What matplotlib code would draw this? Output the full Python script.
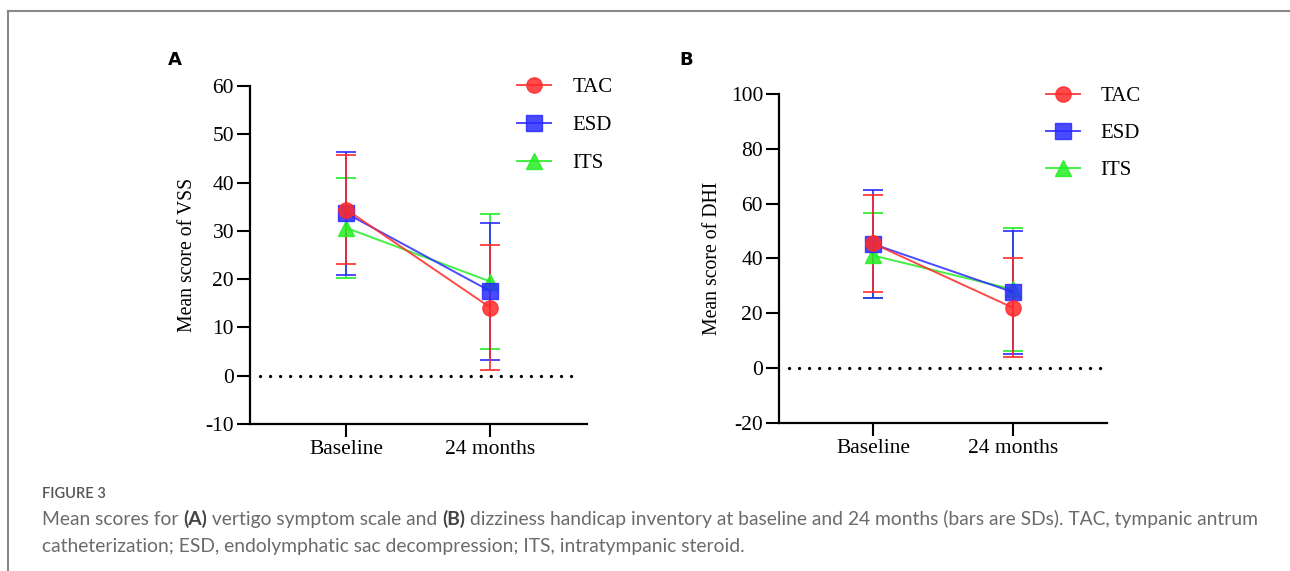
import numpy as np
import matplotlib
matplotlib.use("Agg")
from matplotlib import pyplot as plt
from matplotlib.lines import Line2D
from matplotlib.text import Annotation

# ---- data ----
timepoints = ['Baseline', '24 months']
groups = ['TAC', 'ESD', 'ITS']

vss_mean = {'TAC': [34.4, 14.1], 'ESD': [33.6, 17.5], 'ITS': [30.6, 19.5]}
vss_sd = {'TAC': [11.3, 12.9], 'ESD': [12.7, 14.2], 'ITS': [10.3, 13.9]}

dhi_mean = {'TAC': [45.5, 22.0], 'ESD': [45.3, 27.7], 'ITS': [41.1, 28.7]}
dhi_sd = {'TAC': [17.7, 18.0], 'ESD': [19.6, 22.5], 'ITS': [15.5, 22.4]}

colors = {'TAC': '#ff2a2a', 'ESD': '#2a2aff', 'ITS': '#22ee22'}
markers = {'TAC': 'o', 'ESD': 's', 'ITS': '^'}
# draw order: green under blue under red
order = ['ITS', 'ESD', 'TAC']

plt.rcParams['font.family'] = ['Liberation Serif', 'DejaVu Serif']
plt.rcParams['axes.unicode_minus'] = False

fig = plt.figure(figsize=(12.9, 5.71), dpi=100)
axA = fig.add_axes([0.1938, 0.2574, 0.2612, 0.592])
axB = fig.add_axes([0.6039, 0.2592, 0.2543, 0.5762])


def draw_panel(ax, means, sds, ylim, yticks, ylabel, leg_anchor, spacing):
    x = np.arange(len(timepoints))
    for g in order:
        ax.errorbar(x, means[g], yerr=sds[g], color=colors[g], lw=1.4,
                    capsize=7.5, capthick=1.4, marker=markers[g], ms=11,
                    alpha=0.85, zorder=3)
    ax.hlines(0, -0.6, 1.63, colors='black', lw=2.4,
              linestyles=[(0, (0.01, 3.0))], capstyle='round', zorder=1)
    ax.set_xlim(-0.67, 1.67)
    ax.set_ylim(*ylim)
    ax.set_yticks(yticks)
    ax.set_xticks(x)
    ax.set_xticklabels(timepoints)
    ax.set_ylabel(ylabel, fontsize=14.2, labelpad=6)
    ax.tick_params(labelsize=15.5, length=9.5, width=1.5, direction='out', pad=2)
    for s in ['top', 'right']:
        ax.spines[s].set_visible(False)
    for s in ['left', 'bottom']:
        ax.spines[s].set_linewidth(1.6)
    handles = [Line2D([], [], color=colors[g], marker=markers[g], ms=11, lw=1.4, alpha=0.85)
               for g in groups]
    ax.legend(handles, groups, loc='upper left', bbox_to_anchor=leg_anchor,
              frameon=False, fontsize=15, handlelength=1.65, handletextpad=1.0,
              labelspacing=spacing, borderaxespad=0)


draw_panel(axA, vss_mean, vss_sd, (-10, 60), np.arange(-10, 61, 10),
           'Mean score of VSS', (0.768, 1.05), 0.88)
draw_panel(axB, dhi_mean, dhi_sd, (-20, 100), np.arange(-20, 101, 20),
           'Mean score of DHI', (0.787, 1.047), 0.83)

fig.text(175 / 1290, 1 - 60 / 571, 'A', fontsize=13, fontweight='bold',
         family='DejaVu Sans', ha='center', va='center')
fig.text(686 / 1290, 1 - 60 / 571, 'B', fontsize=13, fontweight='bold',
         family='DejaVu Sans', ha='center', va='center')

# frame lines (top and left)
fig.add_artist(Line2D([8 / 1290, 1], [1 - 11 / 571] * 2, color='#888888', lw=1.5))
fig.add_artist(Line2D([8 / 1290] * 2, [0, 1 - 11 / 571], color='#888888', lw=1.5))

# caption
cap_font = ['Lato', 'DejaVu Sans']
gray = '#6b6b6b'
cap_size = 13.9
fig.text(42 / 1290, 1 - 494 / 571, 'FIGURE 3', fontsize=10.5, color='#555555',
         family=cap_font, fontweight='semibold', va='center')

line1 = [('Mean scores for ', 'normal'), ('(A)', 'bold'),
         (' vertigo symptom scale and ', 'normal'), ('(B)', 'bold'),
         (' dizziness handicap inventory at baseline and 24 months (bars are SDs). TAC, tympanic antrum', 'normal')]
line2 = 'catheterization; ESD, endolymphatic sac decompression; ITS, intratympanic steroid.'

prev = fig.text(42 / 1290, 1 - 528 / 571, line1[0][0], fontsize=cap_size, color=gray,
                family=cap_font, va='bottom')
for txt, wt in line1[1:]:
    c = '#444444' if wt == 'bold' else gray
    prev = fig.add_artist(Annotation(
        txt, xy=(1, 0), xycoords=prev, xytext=(0, 0), textcoords='offset points',
        fontsize=cap_size, color=c, family=cap_font, fontweight=wt, va='bottom', ha='left'))

fig.text(42 / 1290, 1 - 555 / 571, line2, fontsize=cap_size, color=gray,
         family=cap_font, va='bottom')

fig.savefig('out.png', dpi=100)
